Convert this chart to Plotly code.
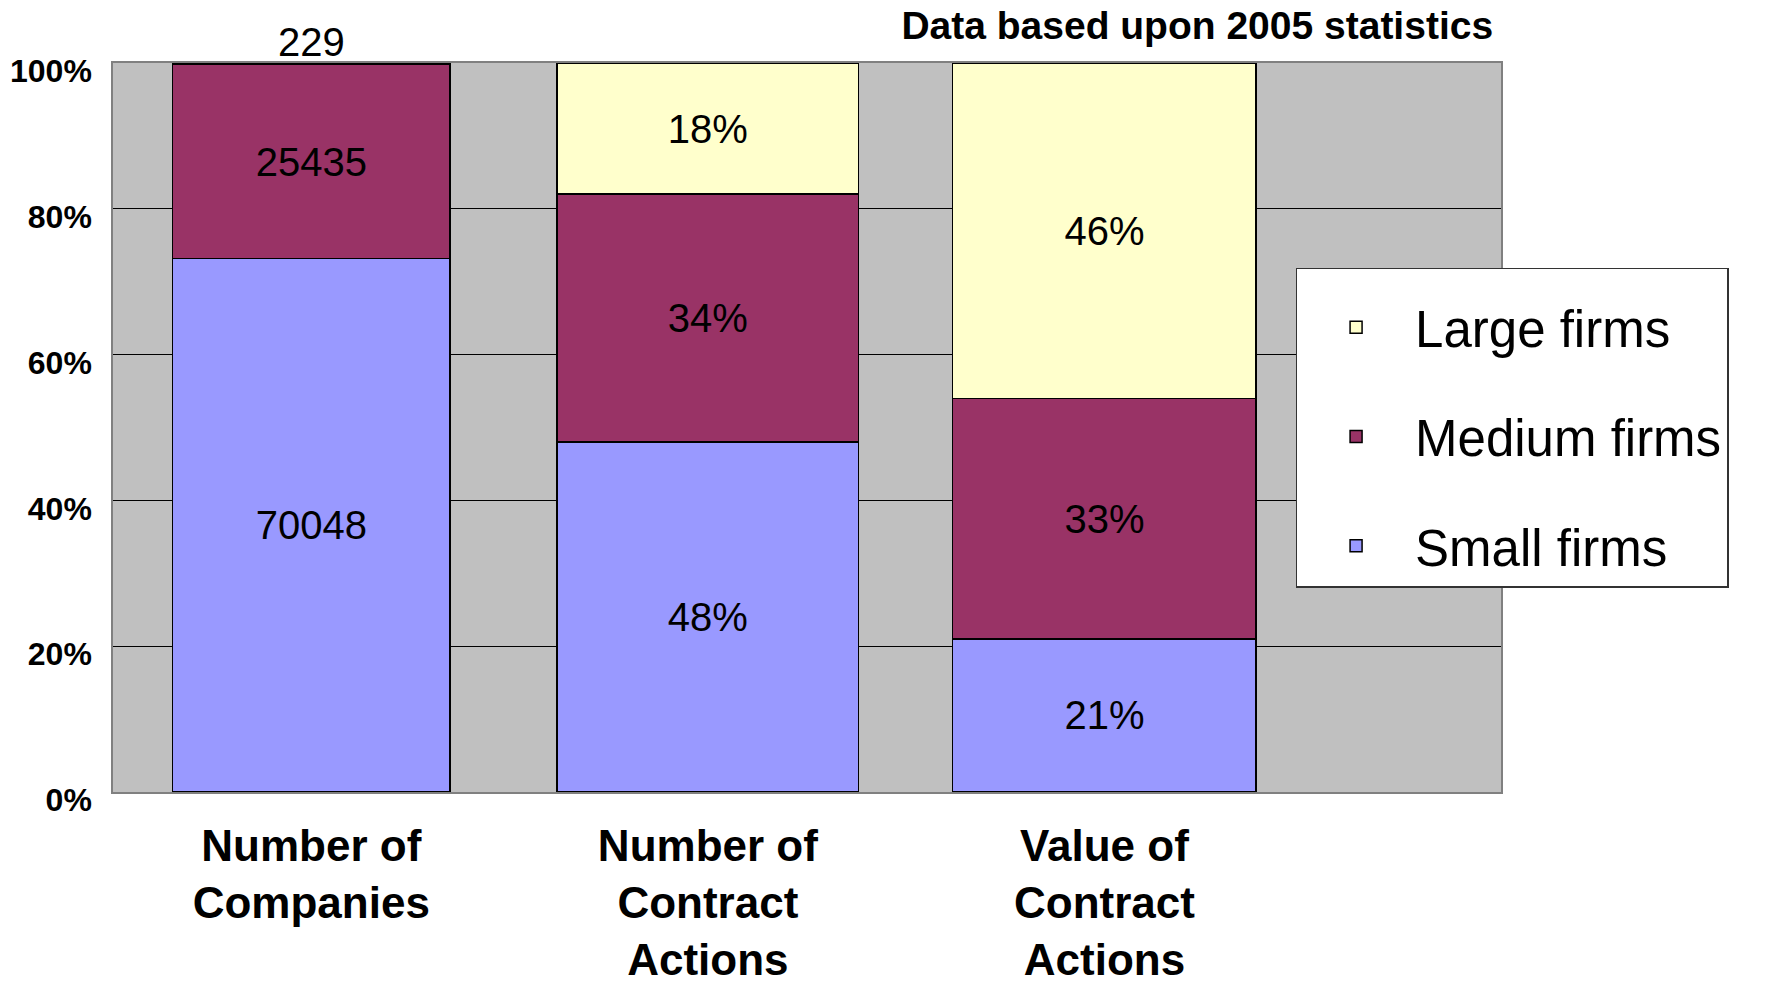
import plotly.graph_objects as go

categories = ["Number of<br>Companies", "Number of<br>Contract<br>Actions", "Value of<br>Contract<br>Actions"]
small_firms = [70048, 48, 21]
medium_firms = [25435, 34, 33]
large_firms = [229, 18, 46]
y_ticks = [0, 20, 40, 60, 80, 100]
y_tick_labels = ["0%", "20%", "40%", "60%", "80%", "100%"]
title_text = "Data based upon 2005 statistics"

def labels(vals):
    # first category shows raw counts, others show percentages
    return [str(v) if i == 0 else f"{v}%" for i, v in enumerate(vals)]

FONT = "Liberation Sans, Arial, sans-serif"
BAR_WIDTHS = [0.70, 0.76, 0.765]

series = [
    ("Small firms", small_firms, "#9999FF", ["inside", "inside", "inside"], 3),
    ("Medium firms", medium_firms, "#993366", ["inside", "inside", "inside"], 2),
    ("Large firms", large_firms, "#FFFFCC", ["none", "inside", "inside"], 1),
]

fig = go.Figure()
for name, vals, color, tpos, rank in series:
    fig.add_trace(go.Bar(
        name=name,
        x=categories,
        y=vals,
        width=BAR_WIDTHS,
        marker=dict(color=color, line=dict(color="#000000", width=1.5)),
        text=labels(vals),
        textposition=tpos,
        insidetextanchor="middle",
        textangle=0,
        constraintext="none",
        cliponaxis=False,
        textfont=dict(family=FONT, size=40, color="#000000"),
        legendgroup=name,
        legendrank=rank,
    ))

# label for the tiny top segment of the first bar, placed above the stack
fig.add_annotation(
    x=categories[0], y=100, xref="x", yref="y",
    text=str(large_firms[0]), showarrow=False, yanchor="bottom", yshift=-3,
    font=dict(family=FONT, size=40, color="#000000"),
)

fig.update_layout(
    width=1767, height=989,
    barmode="stack", barnorm="percent",
    paper_bgcolor="#FFFFFF", plot_bgcolor="#C0C0C0",
    margin=dict(l=113, r=266, t=63, b=197, autoexpand=False),
    font=dict(family=FONT, color="#000000"),
    title=dict(text=title_text, x=0.845, xanchor="right", y=0.974, yanchor="middle",
               font=dict(family=FONT, size=39, weight="bold", color="#000000")),
    legend=dict(
        x=0.852, xanchor="left", y=0.719, yanchor="top",
        bgcolor="#FFFFFF", bordercolor="#333333", borderwidth=1.5,
        font=dict(family=FONT, size=51, color="#000000"),
        title=dict(text=" ", font=dict(size=14)),
        traceorder="grouped", tracegroupgap=40, itemwidth=108,
    ),
    showlegend=True,
)
fig.update_xaxes(
    range=[-0.5, 3.0], showgrid=False, showline=True, linecolor="#808080", linewidth=1.5,
    mirror=True, ticks="", automargin=False,
    tickfont=dict(family=FONT, size=44, weight="bold", color="#000000"),
    ticklabelstandoff=14,
)
fig.update_yaxes(
    range=[0, 100], tickvals=y_ticks, ticktext=y_tick_labels,
    showgrid=True, gridcolor="#000000", gridwidth=1,
    showline=True, linecolor="#808080", linewidth=1.5, mirror=True, zeroline=False,
    ticks="", automargin=False,
    tickfont=dict(family=FONT, size=32, weight="bold", color="#000000"),
    ticklabelstandoff=13, ticklabelshift=8,
)

# remove the default page margin so the 1767x989 figure fills the window exactly
fig.write_html("out.html", config={"displayModeBar": False},
               post_script="document.body.style.margin='0';")
